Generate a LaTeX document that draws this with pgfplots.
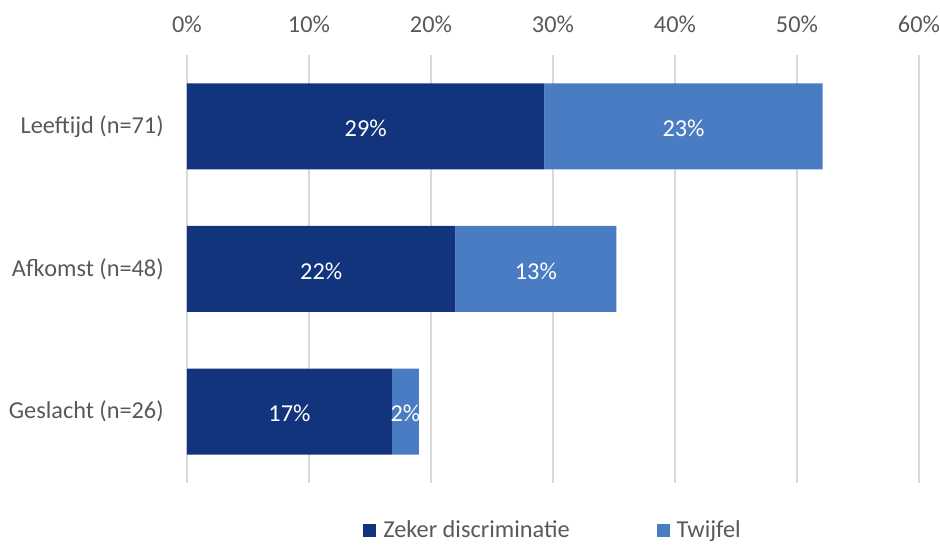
\documentclass[border=0pt]{standalone}
\usepackage{fontspec}
\setmainfont{Carlito}
\usepackage{pgfplots}
\pgfplotsset{compat=1.18}
\definecolor{darkb}{HTML}{12347C}
\definecolor{lightb}{HTML}{4A7CC4}
\definecolor{txt}{HTML}{595959}
\definecolor{gridc}{HTML}{D9D9D9}
\begin{document}
\fontsize{24.3}{29}\selectfont
\begin{tikzpicture}[x=1pt,y=1pt]
\path[use as bounding box] (0,0) rectangle (940,545);
\begin{axis}[
  at={(187pt,62pt)}, anchor=south west,
  scale only axis, width=732pt, height=428pt,
  xmin=0, xmax=60, ymin=-0.5, ymax=2.5, y dir=reverse,
  xbar stacked, bar width=86pt,
  axis line style={draw=none},
  major tick length=0pt,
  xmajorgrids, grid style={gridc, line width=1.4pt},
  xtick={0,10,20,30,40,50,60},
  xticklabels={0\%,10\%,20\%,30\%,40\%,50\%,60\%},
  xticklabel pos=upper,
  xticklabel style={txt, font=\fontsize{24.3}{29}\selectfont, yshift=14pt},
  ytick={0,1,2},
  yticklabels={Leeftijd (n=71),Afkomst (n=48),Geslacht (n=26)},
  yticklabel style={txt, font=\fontsize{24.3}{29}\selectfont, xshift=-15pt},
  point meta=explicit symbolic,
  nodes near coords,
  every node near coord/.append style={white, font=\fontsize{24.3}{29}\selectfont, anchor=center, yshift=-2pt},
  legend style={draw=none, at={(0.5,-0.112)}, anchor=center, legend columns=2,
    font=\fontsize{24.3}{29}\selectfont, text=txt, inner sep=1pt,
    /tikz/every odd column/.append style={column sep=5pt},
    /tikz/every even column/.append style={column sep=85pt}},
  legend cell align=left,
  legend image code/.code={\fill[#1] (0pt,-6.5pt) rectangle (13pt,6.5pt);},
]
\addplot[fill=darkb, draw=none] coordinates {(29.3,0) [29\%] (22.0,1) [22\%] (16.8,2) [17\%]};
\addplot[fill=lightb, draw=none] coordinates {(22.8,0) [23\%] (13.2,1) [13\%] (2.2,2) [2\%]};
\legend{Zeker discriminatie, Twijfel}
\end{axis}
\end{tikzpicture}
\end{document}
